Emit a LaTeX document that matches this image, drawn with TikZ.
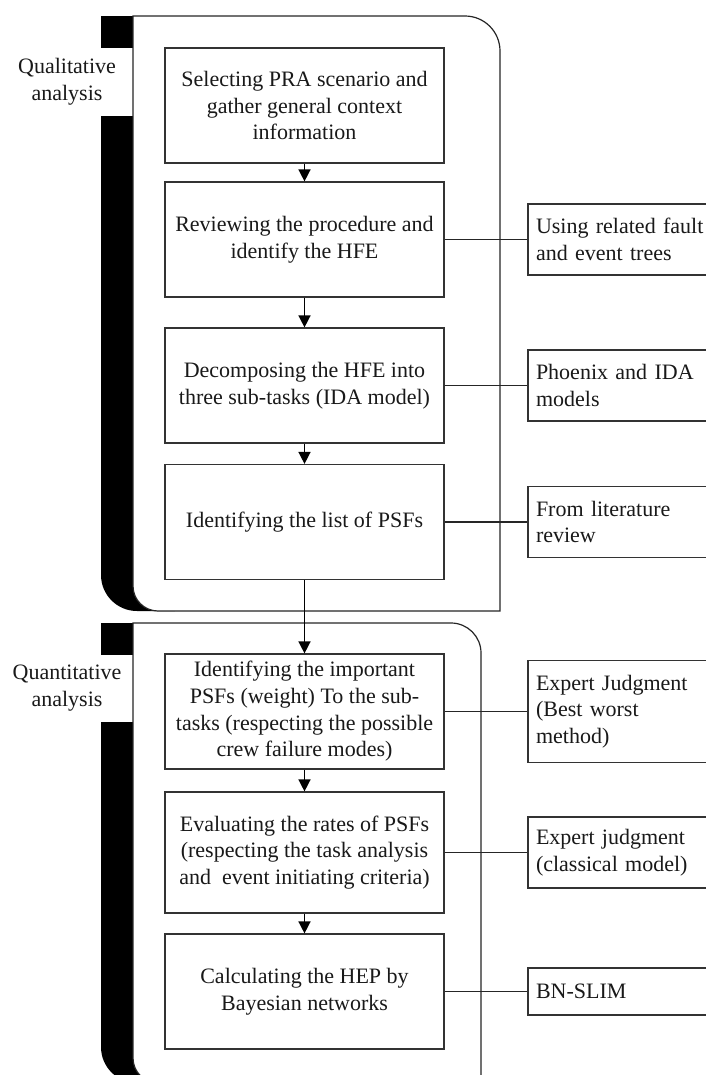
\documentclass[tikz,border=0pt]{standalone}
\usepackage{fontspec}
\setmainfont{Liberation Serif}
\usetikzlibrary{arrows.meta}
\begin{document}
\begin{tikzpicture}[x=0.75pt,y=-0.75pt,
  txt/.style={font=\fontsize{16.5pt}{20pt}\selectfont, text=black!90},
  stepbox/.style={txt, draw=black!80, line width=0.9pt, fill=white, align=center,
    inner sep=0pt, minimum width=209.25pt, minimum height=86.25pt},
  srcbox/.style={txt, draw=black!80, line width=0.9pt, fill=white, align=left,
    inner xsep=6pt, inner ysep=0pt, text width=132pt, minimum height=53.25pt},
  frame/.style={draw=black!85, line width=0.9pt, fill=white},
  band/.style={fill=black},
  flow/.style={draw=black, line width=1.1pt, -{Triangle[length=9pt,width=9pt]}},
  link/.style={draw=black!85, line width=0.8pt},
  phase/.style={txt, align=center, inner sep=0pt}]

\useasboundingbox (0,0) rectangle (706,1075);
\clip (0,0) rectangle (706,1075);

% ---- qualitative phase frame ----
\path[band] (101,16) -- (101,575) arc[start angle=180,end angle=90,radius=36]
  -- (175,611) -- (175,16) -- cycle;
\fill[white] (95,48) rectangle (133,116);
\path[frame] (133,16) -- (465,16) arc[start angle=-90,end angle=0,radius=35]
  -- (500,611) -- (158,611) arc[start angle=90,end angle=180,radius=25] -- cycle;

% ---- quantitative phase frame ----
\path[band] (101,623) -- (101,1047) arc[start angle=180,end angle=90,radius=36]
  -- (175,1083) -- (175,623) -- cycle;
\fill[white] (95,655) rectangle (133,722);
\path[frame] (133,623) -- (451,623) arc[start angle=-90,end angle=0,radius=30]
  -- (481,1083) -- (158,1083) arc[start angle=90,end angle=180,radius=25] -- cycle;

% phase labels
\node[phase] (qual) at (67,82) {Qualitative\\analysis};
\node[phase] (quant) at (67,688) {Quantitative\\analysis};

% ---- main steps ----
\node[stepbox] (s1) at (304.5,105.5) {Selecting PRA scenario and\\gather general context\\information};
\node[stepbox] (s2) at (304.5,239.5) {Reviewing the procedure and\\identify the HFE};
\node[stepbox] (s3) at (304.5,385.5) {Decomposing the HFE into\\three sub-tasks (IDA model)};
\node[stepbox] (s4) at (304.5,522) {Identifying the list of PSFs};
\node[stepbox] (s5) at (304.5,711.5) {Identifying the important\\PSFs (weight) To the sub-\\tasks (respecting the possible\\crew failure modes)};
\node[stepbox, minimum height=90.75pt] (s6) at (304.5,852.5) {Evaluating the rates of PSFs\\(respecting the task analysis\\and\ \ event initiating criteria)};
\node[stepbox] (s7) at (304.5,991.5) {Calculating the HEP by\\Bayesian networks};

% ---- supporting sources ----
\node[srcbox] (r1) at (624,239.5) {Using related fault\\and event trees};
\node[srcbox] (r2) at (624,385.5) {Phoenix and IDA\\models};
\node[srcbox] (r3) at (624,522) {From literature\\review};
\node[srcbox, minimum height=76.5pt] (r4) at (624,711.5) {Expert Judgment\\(Best worst\\method)};
\node[srcbox] (r5) at (624,852.5) {Expert judgment\\(classical model)};
\node[srcbox, minimum height=35.25pt] (r6) at (624,991.5) {BN-SLIM};

% ---- flow between steps ----
\draw[flow] (s1) -- (s2);
\draw[flow] (s2) -- (s3);
\draw[flow] (s3) -- (s4);
\draw[flow] (s4) -- (s5);
\draw[flow] (s5) -- (s6);
\draw[flow] (s6) -- (s7);

% ---- links to sources ----
\draw[link] (s2.east) -- (r1.west);
\draw[link] (s3.east) -- (r2.west);
\draw[link] (s4.east) -- (r3.west);
\draw[link] (s5.east) -- (r4.west);
\draw[link] (s6.east) -- (r5.west);
\draw[link] (s7.east) -- (r6.west);
\end{tikzpicture}
\end{document}
